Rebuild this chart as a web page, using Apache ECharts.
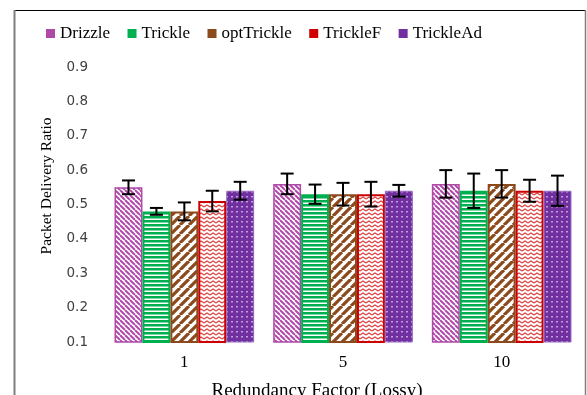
<!DOCTYPE html>
<html>
<head>
<meta charset="utf-8">
<style>
  html, body { margin: 0; padding: 0; background: #fff; }
  #chart { width: 587px; height: 395px; }
</style>
<script src="https://cdn.jsdelivr.net/npm/echarts@6/dist/echarts.min.js"></script>
</head>
<body>
<div id="chart"></div>
<script>
// Redundancy factors on the x axis
const categories = ['1', '5', '10'];
const seriesNames = ['Drizzle', 'Trickle', 'optTrickle', 'TrickleF', 'TrickleAd'];

// Mean packet delivery ratio per protocol
const drizzle    = [0.55, 0.56, 0.56];
const trickle    = [0.48, 0.53, 0.54];
const optTrickle = [0.48, 0.53, 0.56];
const trickleF   = [0.51, 0.53, 0.54];
const trickleAd  = [0.54, 0.54, 0.54];

// Half-width of the error bars
const drizzleErr    = [0.020, 0.030, 0.040];
const trickleErr    = [0.010, 0.028, 0.050];
const optTrickleErr = [0.026, 0.033, 0.040];
const trickleFErr   = [0.030, 0.036, 0.032];
const trickleAdErr  = [0.026, 0.017, 0.044];

const yTicks = ['0.1', '0.2', '0.3', '0.4', '0.5', '0.6', '0.7', '0.8', '0.9'];

const means = [drizzle, trickle, optTrickle, trickleF, trickleAd];
const errs = [drizzleErr, trickleErr, optTrickleErr, trickleFErr, trickleAdErr];

// ---- hatch fills ----
function tile(w, h, draw) {
  const c = document.createElement('canvas');
  c.width = w; c.height = h;
  const g = c.getContext('2d');
  g.fillStyle = '#ffffff';
  g.fillRect(0, 0, w, h);
  draw(g, w, h);
  return c;
}
const fills = [
  // narrow downward diagonal
  tile(5, 5, (g, w) => {
    g.strokeStyle = '#B04AAA'; g.lineWidth = 2;
    g.beginPath();
    for (const k of [-w, 0, w]) { g.moveTo(k, 0); g.lineTo(k + w, w); }
    g.stroke();
  }),
  // horizontal stripes
  tile(4, 4, (g) => {
    g.fillStyle = '#00B050'; g.fillRect(0, 0, 4, 2.5);
  }),
  // wide upward diagonal
  tile(9, 9, (g, w) => {
    g.strokeStyle = '#8C4A1C'; g.lineWidth = 3.2;
    g.beginPath();
    for (const k of [-w, 0, w]) { g.moveTo(k, w); g.lineTo(k + w, 0); }
    g.stroke();
  }),
  // zigzag
  tile(6, 4, (g) => {
    g.strokeStyle = '#E04040'; g.lineWidth = 1.2;
    g.beginPath();
    g.moveTo(0, 3); g.lineTo(3, 1); g.lineTo(6, 3);
    g.stroke();
  }),
  // dotted
  tile(5, 5, (g) => {
    g.fillStyle = '#7030A0'; g.fillRect(0, 0, 5, 5);
    g.fillStyle = '#C29BDC'; g.fillRect(1, 1, 2, 1.5);
  })
];
const solid = ['#B048A8', '#00B050', '#8C4A1C', '#D00000', '#7030A0'];
const borders = ['#B048A8', '#00B050', '#8C4A1C', '#CC0000', '#9466C0'];
const borderW = [1.5, 2, 2, 2, 1];

const CAT_GAP = 0.12;

const series = [];
seriesNames.forEach((name, s) => {
  series.push({
    name: name,
    type: 'bar',
    barGap: '0%',
    barCategoryGap: (CAT_GAP * 100) + '%',
    data: means[s],
    itemStyle: {
      color: { image: fills[s], repeat: 'repeat' },
      borderColor: borders[s],
      borderWidth: borderW[s]
    },
    emphasis: { disabled: true },
    z: 2
  });
});
seriesNames.forEach((name, s) => {
  series.push({
    name: name + ' range',
    type: 'custom',
    z: 5,
    silent: true,
    data: categories.map((c, i) => [i, means[s][i] - errs[s][i], means[s][i] + errs[s][i]]),
    renderItem: function (params, api) {
      const band = api.size([1, 0])[0];
      const barW = band * (1 - CAT_GAP) / seriesNames.length;
      const top = api.coord([api.value(0), api.value(2)]);
      const bot = api.coord([api.value(0), api.value(1)]);
      const x = top[0] + (s - (seriesNames.length - 1) / 2) * barW;
      const cap = 6.5;
      const st = { stroke: '#000', lineWidth: 2 };
      return {
        type: 'group',
        children: [
          { type: 'line', shape: { x1: x, y1: top[1], x2: x, y2: bot[1] }, style: st },
          { type: 'line', shape: { x1: x - cap, y1: top[1], x2: x + cap, y2: top[1] }, style: st },
          { type: 'line', shape: { x1: x - cap, y1: bot[1], x2: x + cap, y2: bot[1] }, style: st }
        ]
      };
    }
  });
});

const serif = '"Liberation Serif", "DejaVu Serif", serif';

const chart = echarts.init(document.getElementById('chart'), null, { renderer: 'canvas' });
chart.setOption({
  animation: false,
  backgroundColor: '#ffffff',
  grid: { left: 105, right: 6, top: 67, bottom: 53 },
  legend: {
    left: 41,
    top: 20,
    itemWidth: 9,
    itemHeight: 9,
    itemGap: 17.5,
    icon: 'rect',
    textStyle: { fontFamily: serif, fontSize: 17, color: '#000' },
    data: seriesNames.map((n, s) => ({ name: n, itemStyle: { color: solid[s], borderWidth: 0 } }))
  },
  xAxis: {
    type: 'category',
    data: categories,
    axisLine: { show: false },
    axisTick: { show: false },
    axisLabel: { margin: 12, fontFamily: serif, fontSize: 17, color: '#000' }
  },
  yAxis: {
    type: 'value',
    min: 0.1,
    max: 0.9,
    interval: 0.1,
    axisLine: { show: false },
    axisTick: { show: false },
    splitLine: { show: false },
    axisLabel: {
      margin: 17,
      fontFamily: '"DejaVu Sans", sans-serif',
      fontSize: 13.5,
      color: '#404040',
      formatter: (v) => yTicks[Math.round((v - 0.1) * 10)] || ''
    }
  },
  graphic: [
    { type: 'line', shape: { x1: 15, y1: 10.5, x2: 585, y2: 10.5 }, style: { stroke: '#000', lineWidth: 1 } },
    { type: 'line', shape: { x1: 14.5, y1: 10, x2: 14.5, y2: 395 }, style: { stroke: '#7f7f7f', lineWidth: 2 } },
    { type: 'line', shape: { x1: 585.5, y1: 10, x2: 585.5, y2: 395 }, style: { stroke: '#7f7f7f', lineWidth: 1.5 } },
    {
      type: 'text', x: 47, y: 186, rotation: Math.PI / 2,
      style: { text: 'Packet Delivery Ratio', font: '15.5px ' + serif, fill: '#000', align: 'center', verticalAlign: 'middle' }
    },
    {
      type: 'text', x: 317, y: 391,
      style: { text: 'Redundancy Factor (Lossy)', font: '19px ' + serif, fill: '#000', align: 'center', verticalAlign: 'middle' }
    }
  ],
  series: series
});
</script>
</body>
</html>
